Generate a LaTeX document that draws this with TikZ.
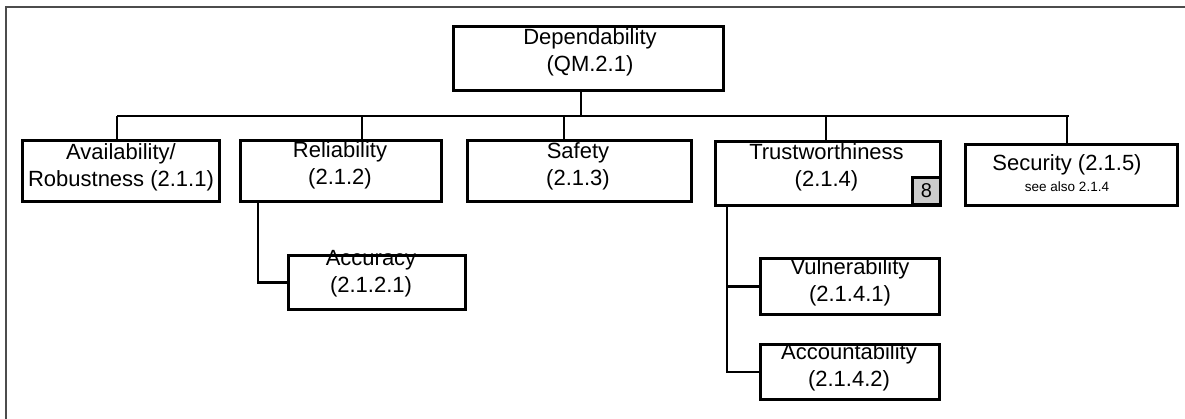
\documentclass[tikz,border=0pt]{standalone}
\usepackage{fontspec}
\setmainfont{Liberation Sans}
\begin{document}
\begin{tikzpicture}[x=1pt,y=-1pt,
  box/.style={draw=black,line width=2.8pt,fill=white,inner sep=0pt,rectangle},
  lbl/.style={align=center,inner sep=0pt,font=\fontsize{22}{27}\selectfont},
  conn/.style={draw=black,line width=2.6pt},
  frameline/.style={draw=black!70,line width=2pt}]
\useasboundingbox (0,0) rectangle (1185,419);
% frame
\coordinate (fTL) at (6,7);
\coordinate (fTR) at (1186,7);
\coordinate (fBL) at (6,420);
\draw[frameline] (fBL) -- (fTL) -- (fTR);
% boxes
\node[box,minimum width=270pt,minimum height=64pt] (dep) at (588.5,58.5) {};
\node[box,minimum width=197pt,minimum height=61pt] (avail) at (121,171) {};
\node[box,minimum width=201pt,minimum height=61pt] (rel) at (341,171) {};
\node[box,minimum width=224pt,minimum height=61pt] (saf) at (579.5,171) {};
\node[box,minimum width=225pt,minimum height=64pt] (trust) at (828,173.5) {};
\node[box,minimum width=212pt,minimum height=61pt] (sec) at (1071.5,175) {};
\node[box,minimum width=177pt,minimum height=54pt] (acc) at (377,282.5) {};
\node[box,minimum width=179pt,minimum height=56pt] (vuln) at (850,286.5) {};
\node[box,minimum width=179pt,minimum height=55pt] (acct) at (850,372) {};
\node[box,fill=black!20,minimum width=28pt,minimum height=27pt,font=\fontsize{20}{22}\selectfont] (eight) at (926.5,191) {8};
% labels
\node[lbl] (tdep) at (590,52) {Dependability\\(QM.2.1)};
\node[lbl] (tavail) at (121,167.5) {Availability/\\Robustness (2.1.1)};
\node[lbl] (trel) at (340,165) {Reliability\\(2.1.2)};
\node[lbl] (tsaf) at (578,166) {Safety\\(2.1.3)};
\node[lbl] (ttrust) at (826.5,167) {Trustworthiness\\(2.1.4)};
\node[lbl,font=\fontsize{22}{21}\selectfont] (tsec) at (1067,173) {Security (2.1.5)\\{\fontsize{13.5}{15}\selectfont see also 2.1.4}};
\node[lbl] (tacc) at (371,274) {Accuracy\\(2.1.2.1)};
\node[lbl] (tvuln) at (850,282.5) {Vulnerability\\(2.1.4.1)};
\node[lbl] (tacct) at (849,367) {Accountability\\(2.1.4.2)};
% bus and connectors
\coordinate (bA) at (117,116);
\coordinate (bR) at (362,116);
\coordinate (bD) at (581,116);
\coordinate (bS) at (564,116);
\coordinate (bT) at (826,116);
\coordinate (bC) at (1067,116);
\coordinate (bEnd) at (1069,116);
\draw[conn] (bA) -- (bEnd);
\draw[conn] (bD |- dep.south) -- (bD);
\draw[conn] (bA) -- (bA |- avail.north);
\draw[conn] (bR) -- (bR |- rel.north);
\draw[conn] (bS) -- (bS |- saf.north);
\draw[conn] (bT) -- (bT |- trust.north);
\draw[conn] (bC) -- (bC |- sec.north);
\coordinate (rc) at ([xshift=19pt]rel.south west);
\draw[conn] (rc) |- (acc.west);
\coordinate (tc) at ([xshift=13pt]trust.south west);
\draw[conn] (tc) |- (acct.west);
\draw[conn] (tc |- vuln.west) -- (vuln.west);
\end{tikzpicture}
\end{document}
